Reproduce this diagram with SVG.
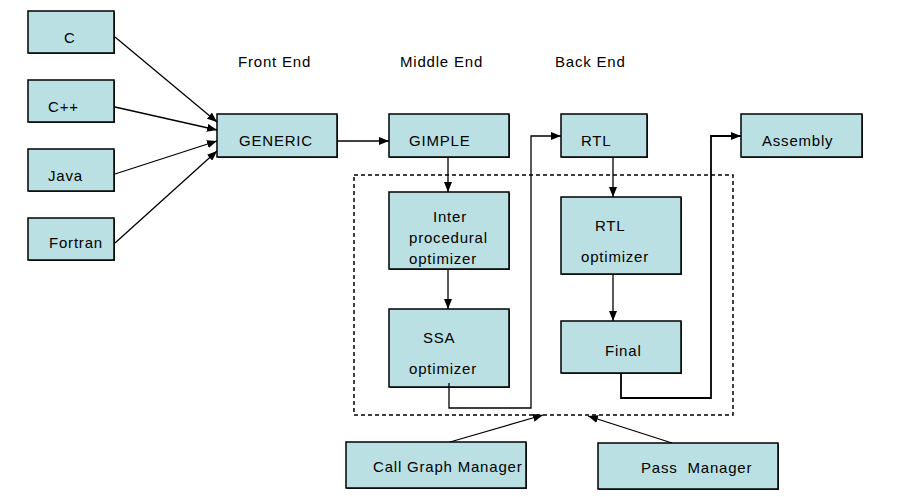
<svg xmlns="http://www.w3.org/2000/svg" width="917" height="497" viewBox="0 0 917 497">
<defs>
<marker id="arr" viewBox="0 0 10 8" refX="10" refY="4" markerWidth="10" markerHeight="8" markerUnits="userSpaceOnUse" orient="auto">
<path d="M0,0 L10,4 L0,8 Z" fill="#000"/>
</marker>
</defs>
<style>
.box{fill:#BBE0E3;stroke:#000;stroke-width:1.5}
.sh{fill:#333}
text{font-family:"Liberation Sans",Arial,sans-serif;font-size:15px;fill:#000;letter-spacing:0.8px}
.c{fill:none;stroke:#000;stroke-width:1.3}
.cm{marker-end:url(#arr)}
.dash{fill:none;stroke:#000;stroke-width:1.5;stroke-dasharray:4,3}
</style>
<rect width="917" height="497" fill="#fff"/>
<g id="labels">
<text x="238" y="67">Front End</text>
<text x="400" y="67">Middle End</text>
<text x="555" y="67">Back End</text>
</g>
<rect class="dash" x="354" y="175" width="379" height="240"/>
<g id="n-c"><rect class="sh" x="29" y="12" width="86" height="42"/><rect class="box" x="28" y="11" width="86" height="42"/><text x="64" y="43">C</text></g>
<g id="n-cpp"><rect class="sh" x="29" y="81" width="86" height="42"/><rect class="box" x="28" y="80" width="86" height="42"/><text x="48" y="112">C++</text></g>
<g id="n-java"><rect class="sh" x="29" y="150" width="86" height="42"/><rect class="box" x="28" y="149" width="86" height="42"/><text x="48" y="181">Java</text></g>
<g id="n-fortran"><rect class="sh" x="29" y="219" width="86" height="42"/><rect class="box" x="28" y="218" width="86" height="42"/><text x="49" y="248">Fortran</text></g>
<g id="n-generic"><rect class="sh" x="218" y="115" width="120" height="43"/><rect class="box" x="217" y="114" width="120" height="43"/><text x="239" y="146">GENERIC</text></g>
<g id="n-gimple"><rect class="sh" x="390" y="115" width="120" height="43"/><rect class="box" x="389" y="114" width="120" height="43"/><text x="409" y="146">GIMPLE</text></g>
<g id="n-rtl"><rect class="sh" x="562" y="115" width="86" height="43"/><rect class="box" x="561" y="114" width="86" height="43"/><text x="581" y="146">RTL</text></g>
<g id="n-asm"><rect class="sh" x="742" y="115" width="121" height="43"/><rect class="box" x="741" y="114" width="121" height="43"/><text x="762" y="146">Assembly</text></g>
<g id="n-ipo"><rect class="sh" x="390" y="193" width="120" height="77"/><rect class="box" x="389" y="192" width="120" height="77"/><text x="433" y="222">Inter</text><text x="409" y="243">procedural</text><text x="409" y="264">optimizer</text></g>
<g id="n-ssa"><rect class="sh" x="390" y="310" width="120" height="78"/><rect class="box" x="389" y="309" width="120" height="78"/><text x="423" y="343">SSA</text><text x="409" y="374">optimizer</text></g>
<g id="n-rtlopt"><rect class="sh" x="562" y="198" width="120" height="77"/><rect class="box" x="561" y="197" width="120" height="77"/><text x="595" y="231">RTL</text><text x="581" y="262">optimizer</text></g>
<g id="n-final"><rect class="sh" x="562" y="322" width="120" height="52"/><rect class="box" x="561" y="321" width="120" height="52"/><text x="605" y="356">Final</text></g>
<g id="n-cgm"><rect class="sh" x="347" y="443" width="180" height="46"/><rect class="box" x="346" y="442" width="180" height="46"/><text x="373" y="472">Call Graph Manager</text></g>
<g id="n-pm"><rect class="sh" x="599" y="444" width="180" height="46"/><rect class="box" x="598" y="443" width="180" height="46"/><text x="641" y="473" xml:space="preserve">Pass  Manager</text></g>
<g id="connectors">
<path class="c cm" d="M115,37 L217,122"/>
<path class="c cm" d="M115,107 L217,130"/>
<path class="c cm" d="M115,174 L217,141"/>
<path class="c cm" d="M115,243 L217,151"/>
<path class="c cm" d="M337,141 L389,141"/>
<path class="c cm" d="M448,157 L448,192"/>
<path class="c cm" d="M448,269 L448,309"/>
<path class="c cm" d="M449,383 L449,408 L531,408 L531,136 L561,136"/>
<path class="c cm" d="M613,157 L613,197"/>
<path class="c cm" d="M613,274 L613,321"/>
<path class="c cm" d="M621,373 L621,398 L711,398 L711,136 L741,136" style="stroke-width:1.8"/>
<path class="c cm" d="M450,442 L543,415"/>
<path class="c cm" d="M672,443 L588,416"/>
</g>
</svg>
